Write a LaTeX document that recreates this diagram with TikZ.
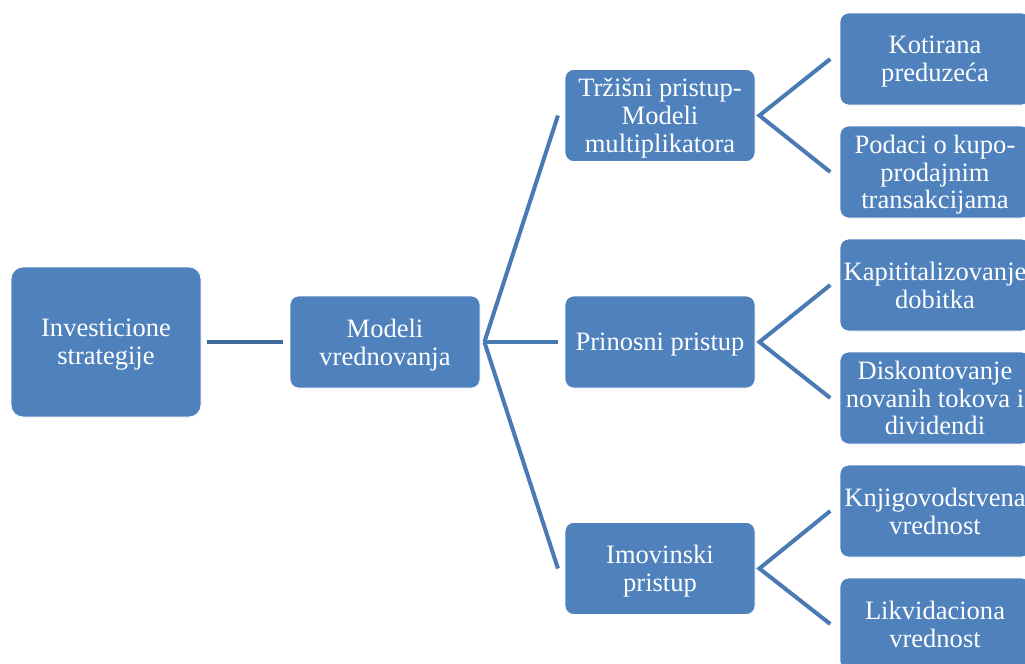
\documentclass[tikz,border=0pt]{standalone}
\usepackage{fontspec}
\setmainfont{Liberation Serif}
\definecolor{boxblue}{HTML}{4F81BD}
\definecolor{linkdark}{HTML}{41699A}
\definecolor{linkblue}{HTML}{4A7AB3}
\tikzset{
  box/.style={fill=boxblue, draw=white, line width=0.6pt, rounded corners=6.5pt,
    text=white, align=center, inner sep=0pt, text depth=0pt,
    minimum width=142.5pt, minimum height=69pt,
    font=\fontsize{19.9}{20.8}\selectfont},
  bigbox/.style={box, minimum height=112.5pt, rounded corners=9pt},
  link/.style={linkblue, line width=3pt},
  rootlink/.style={linkdark, line width=3.6pt}
}
\begin{document}
\begin{tikzpicture}[x=0.75pt, y=-0.75pt]
\clip (0,0) rectangle (1025,664);
\fill[white] (0,0) rectangle (1025,664);

% root and second level
\node[bigbox] (inv) at (106,342) {Investicione\\strategije};
\node[box] (mod) at (385,342) {Modeli\\vrednovanja};

% approaches
\node[box] (trz) at (660,115.5) {Tržišni pristup-\\Modeli\\multiplikatora};
\node[box] (pri) at (660,342) {Prinosni pristup};
\node[box] (imo) at (660,568.5) {Imovinski\\pristup};

% leaves
\node[box] (kot) at (935,59) {Kotirana\\preduzeća};
\node[box] (pod) at (935,172) {Podaci o kupo-\\prodajnim\\transakcijama};
\node[box] (kap) at (935,285) {Kapititalizovanje\\dobitka};
\node[box] (dis) at (935,398) {Diskontovanje\\novanih tokova i\\dividendi};
\node[box] (knj) at (935,511) {Knjigovodstvena\\vrednost};
\node[box] (lik) at (935,624) {Likvidaciona\\vrednost};

% connectors
\draw[rootlink] ([xshift=4]inv.east) -- ([xshift=-5]mod.west);
\foreach \t in {trz,pri,imo}
  \draw[link] ([xshift=3]mod.east) -- ([xshift=-5]\t.west);
\foreach \s/\a/\b in {trz/kot/pod, pri/kap/dis, imo/knj/lik}{
  \draw[link] ([xshift=-7]\a.west) -- ([xshift=3]\s.east) -- ([xshift=-7]\b.west);
}
\end{tikzpicture}
\end{document}
